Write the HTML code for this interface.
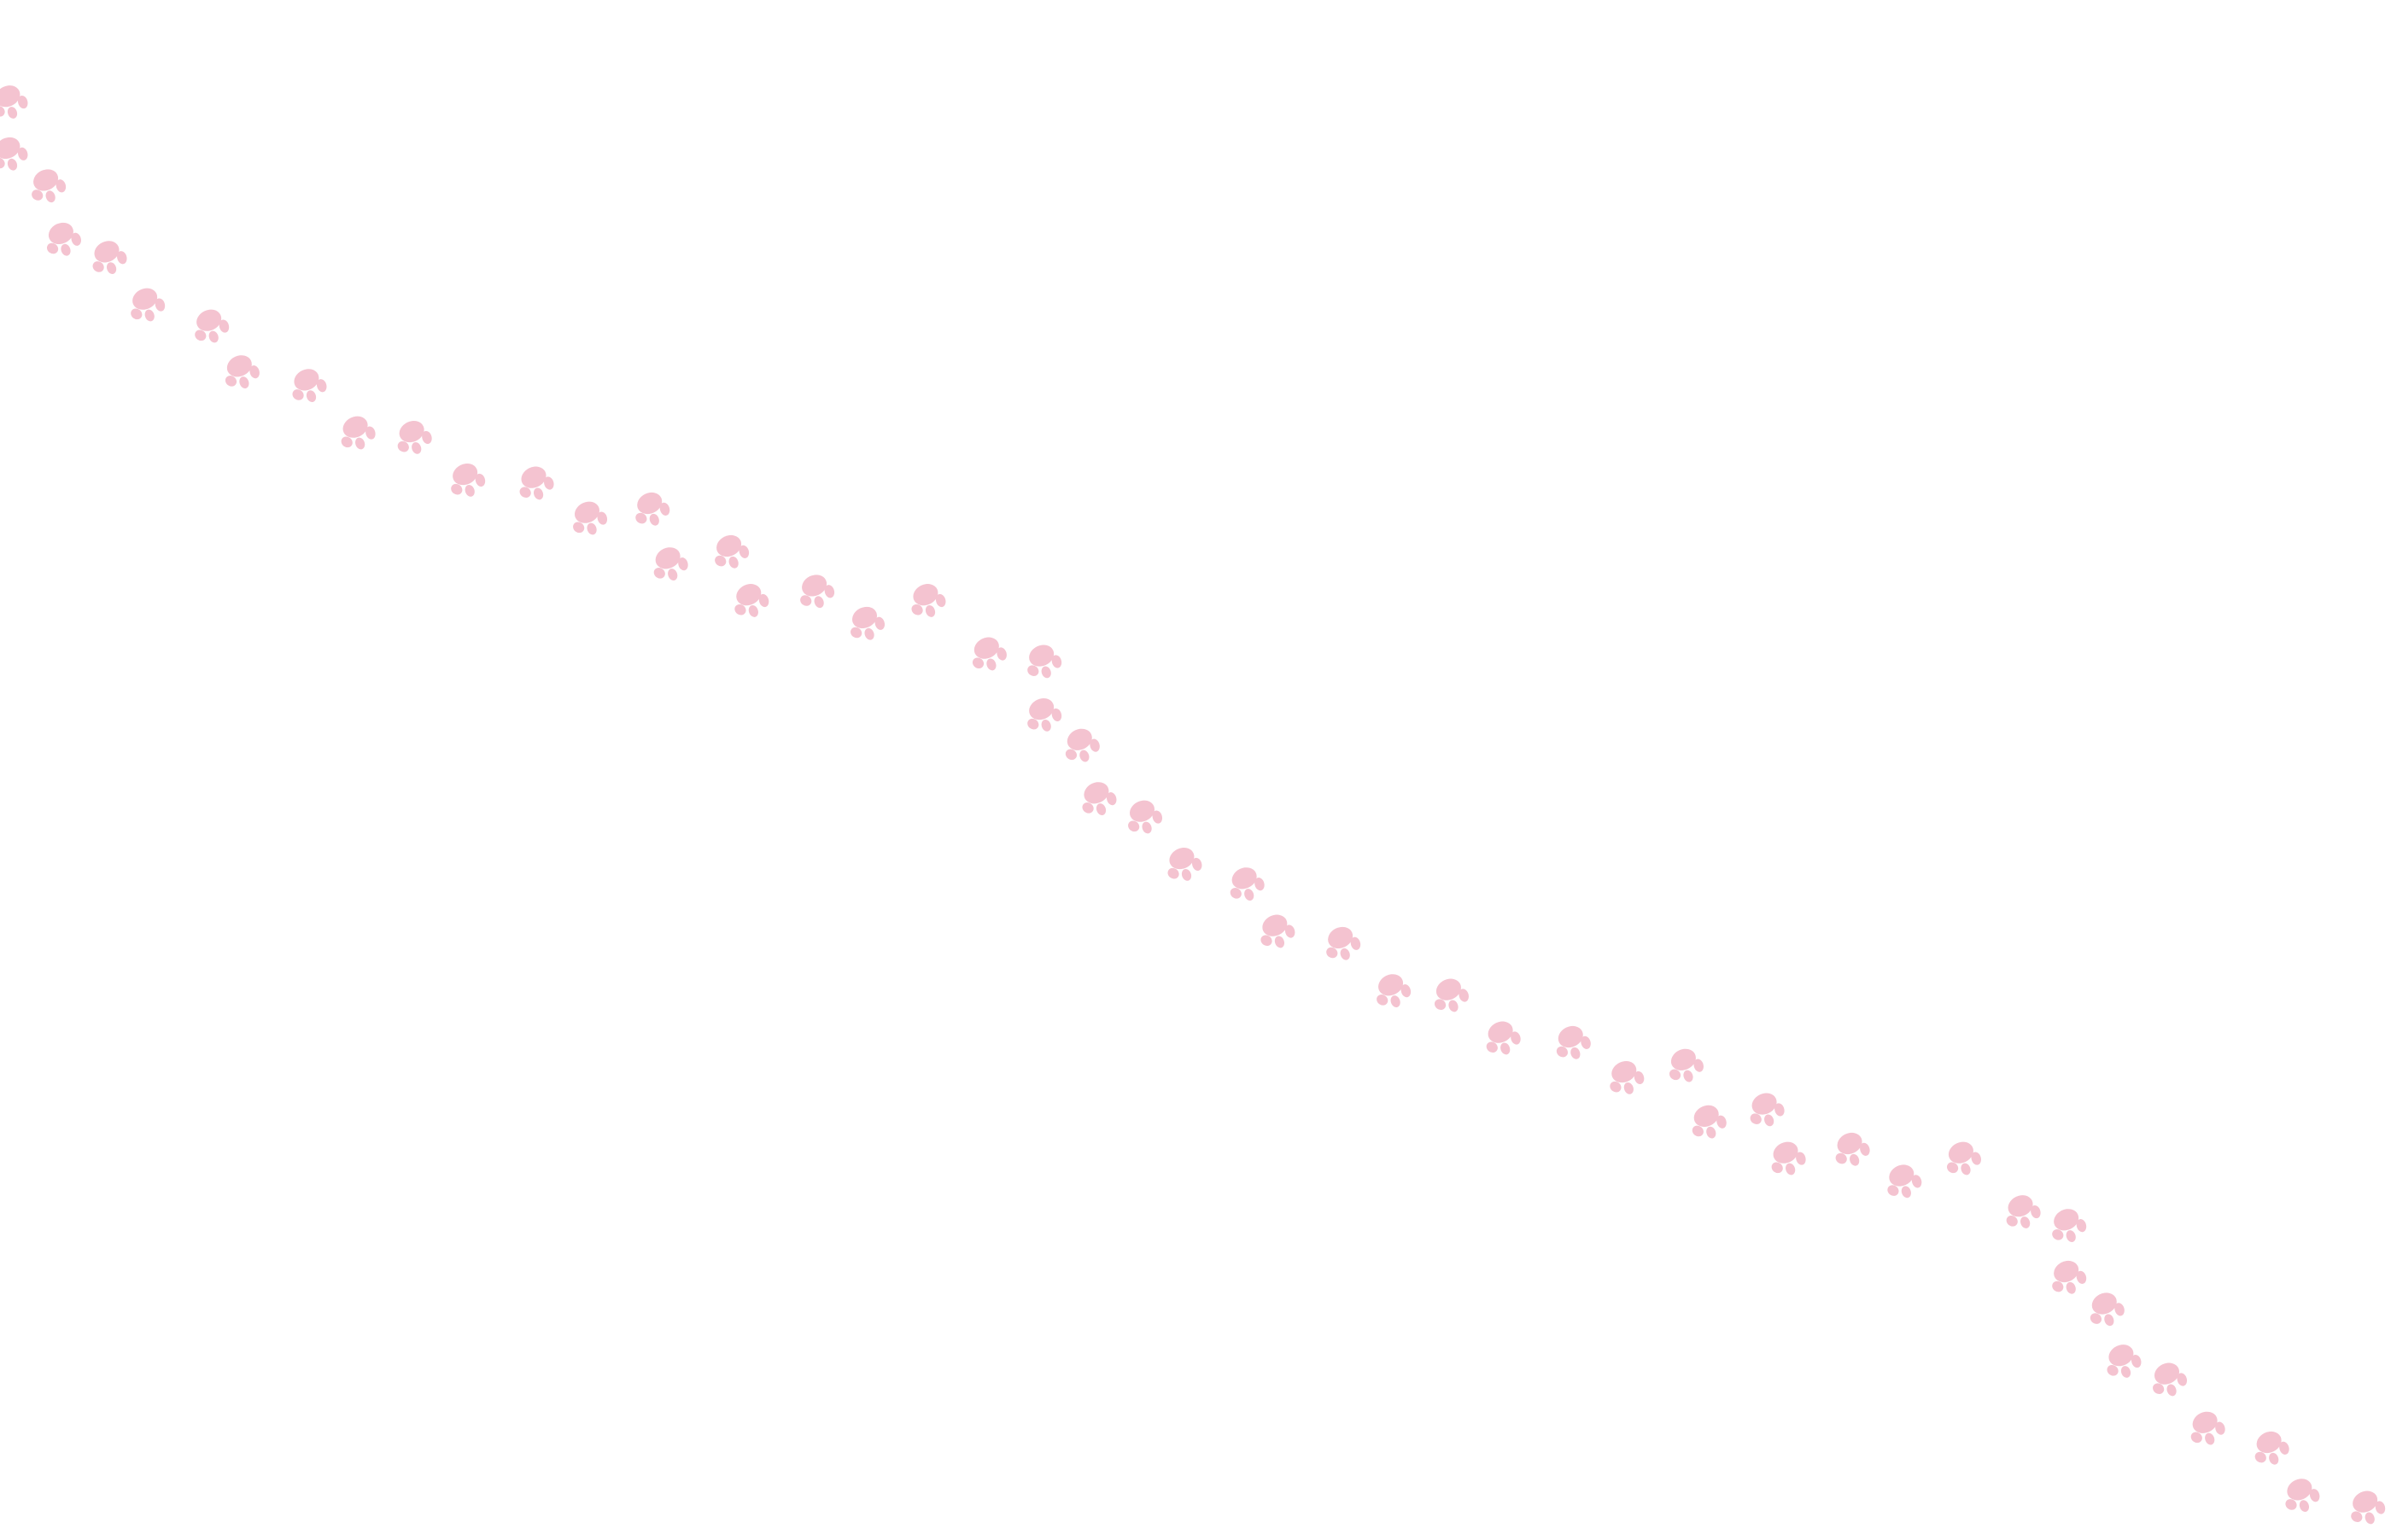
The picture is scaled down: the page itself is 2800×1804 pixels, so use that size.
<!DOCTYPE html>
<html><head><meta charset="utf-8"><style>
html,body{margin:0;padding:0;background:#fff;}
svg{display:block;}
</style></head><body>
<svg width="2800" height="1804" viewBox="0 0 1568 1010" xmlns="http://www.w3.org/2000/svg">
<defs>
<g id="p" fill="#f4c3d0" transform="translate(0,2) scale(1.2)">
<ellipse cx="0" cy="0" rx="7" ry="5.6" transform="rotate(-25)"/>
<ellipse cx="8.3" cy="3.2" rx="2.6" ry="3.6" transform="rotate(-15 8.3 3.2)"/>
<ellipse cx="-4.6" cy="8.2" rx="3.2" ry="2.8" transform="rotate(35 -4.6 8.2)"/>
<ellipse cx="2.6" cy="9" rx="2.5" ry="3.3" transform="rotate(-20 2.6 9)"/>
</g>
</defs>
<g>
<use href="#p" x="5" y="61"/><use href="#p" x="5" y="95"/><use href="#p" x="30" y="116"/><use href="#p" x="40" y="151"/>
<use href="#p" x="70" y="163"/><use href="#p" x="95" y="194"/><use href="#p" x="137" y="208"/><use href="#p" x="157" y="238"/>
<use href="#p" x="201" y="247"/><use href="#p" x="233" y="278"/><use href="#p" x="270" y="281"/><use href="#p" x="305" y="309"/>
<use href="#p" x="350" y="311"/><use href="#p" x="385" y="334"/><use href="#p" x="426" y="328"/><use href="#p" x="438" y="364"/>
<use href="#p" x="478" y="356"/><use href="#p" x="491" y="388"/><use href="#p" x="534" y="382"/><use href="#p" x="567" y="403"/>
<use href="#p" x="607" y="388"/><use href="#p" x="647" y="423"/><use href="#p" x="683" y="428"/><use href="#p" x="683" y="463"/>
<use href="#p" x="708" y="483"/><use href="#p" x="719" y="518"/><use href="#p" x="749" y="530"/><use href="#p" x="775" y="561"/>
<use href="#p" x="816" y="574"/><use href="#p" x="836" y="605"/><use href="#p" x="879" y="613"/><use href="#p" x="912" y="644"/>
<use href="#p" x="950" y="647"/><use href="#p" x="984" y="675"/><use href="#p" x="1030" y="678"/><use href="#p" x="1065" y="701"/>
<use href="#p" x="1104" y="693"/><use href="#p" x="1119" y="730"/><use href="#p" x="1157" y="722"/><use href="#p" x="1171" y="754"/>
<use href="#p" x="1213" y="748"/><use href="#p" x="1247" y="769"/><use href="#p" x="1286" y="754"/><use href="#p" x="1325" y="789"/>
<use href="#p" x="1355" y="798"/><use href="#p" x="1355" y="832"/><use href="#p" x="1380" y="853"/><use href="#p" x="1391" y="887"/>
<use href="#p" x="1421" y="899"/><use href="#p" x="1446" y="931"/><use href="#p" x="1488" y="944"/><use href="#p" x="1508" y="975"/>
<use href="#p" x="1551" y="983"/>
</g>
</svg>
</body></html>
